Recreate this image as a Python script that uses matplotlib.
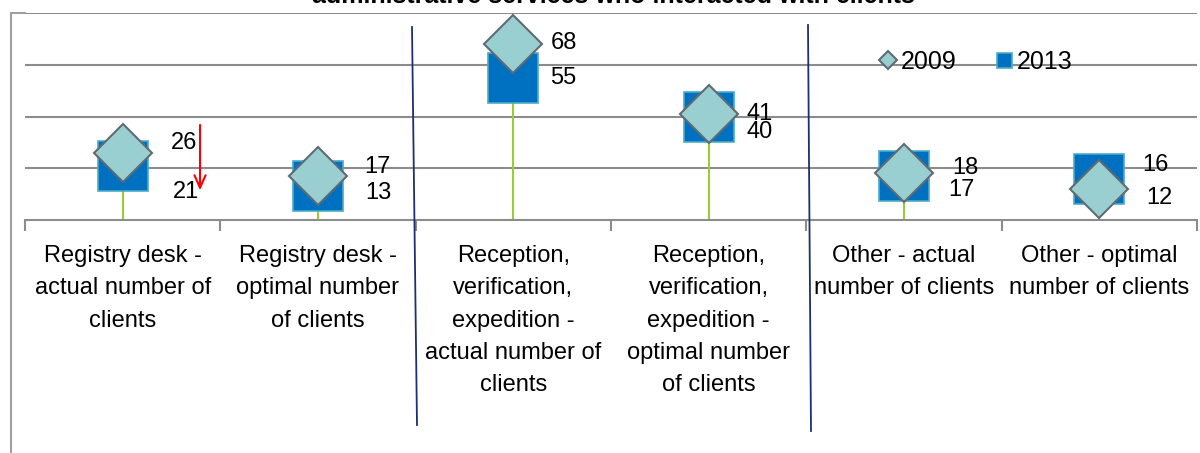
import matplotlib
matplotlib.use("Agg")
import matplotlib.pyplot as plt
from matplotlib.lines import Line2D

plt.rcParams['font.family'] = ['Liberation Sans', 'DejaVu Sans']

# data
categories = ["Registry desk -\nactual number of\nclients",
              "Registry desk -\noptimal number\nof clients",
              "Reception,\nverification,\nexpedition -\nactual number of\nclients",
              "Reception,\nverification,\nexpedition -\noptimal number\nof clients",
              "Other - actual\nnumber of clients",
              "Other - optimal\nnumber of clients"]
v2009 = [26, 17, 68, 41, 18, 12]
v2013 = [21, 13, 55, 40, 17, 16]
# label offsets in pixels (dx, dy)
off2009 = [(61, 10), (59, 9), (51, 1), (51, 0), (61, 5), (60, -9)]
off2013 = [(63, -26), (60, -7), (50, 0), (51, -16), (57, -14), (56, 14)]

W, H = 1200, 453
fig = plt.figure(figsize=(12, 4.53), dpi=100)
ax = fig.add_axes([25 / W, 1 - 220 / H, 1172 / W, 207 / H])

x = list(range(len(categories)))
top = [max(a, b) for a, b in zip(v2009, v2013)]
ax.vlines(x, 0, top, color='#9ACD32', lw=1.5, zorder=2)
ax.plot(x, v2013, ls='none', marker='s', ms=36, mfc='#0070C0', mec='#4BACC6',
        mew=1.2, zorder=3, label='2013')
ax.plot(x, v2009, ls='none', marker='D', ms=30, mfc='#9ACFD2', mec='#5F6B73',
        mew=1.5, zorder=4, label='2009')

for i in x:
    ax.annotate(str(v2009[i]), (i, v2009[i]), xytext=off2009[i], textcoords='offset pixels',
                ha='center', va='center', fontsize=17, zorder=5)
    ax.annotate(str(v2013[i]), (i, v2013[i]), xytext=off2013[i], textcoords='offset pixels',
                ha='center', va='center', fontsize=17, zorder=5)

ax.set_xlim(-0.5, len(categories) - 0.5)
ax.set_ylim(0, 80)
ax.set_yticks([20, 40, 60, 80])
ax.yaxis.grid(True, color='#8c8c8c', lw=1.5)
ax.tick_params(axis='y', left=False, labelleft=False)
for s in ['left', 'right', 'top']:
    ax.spines[s].set_visible(False)
ax.spines['bottom'].set_color('#8c8c8c')
ax.spines['bottom'].set_linewidth(1.5)
ax.set_xticks(x)
ax.set_xticklabels(categories, fontsize=17)
for t in ax.get_xticklabels():
    t.set_linespacing(1.61)
ax.set_xticks([i - 0.5 for i in range(len(categories) + 1)], minor=True)
ax.tick_params(axis='x', which='major', length=0, pad=18)
ax.tick_params(axis='x', which='minor', length=8, color='#8c8c8c', width=1.5)
ax.set_axisbelow(True)

# red arrow
ax.annotate('', xy=(0.396, 10.4), xytext=(0.396, 37.8),
            arrowprops=dict(arrowstyle='->,head_length=0.9,head_width=0.4', color='red', lw=1.5))

leg = ax.legend(handles=ax.get_lines()[::-1], loc='center', bbox_to_anchor=(0.812, 0.763),
                ncol=2, frameon=False, fontsize=18, markerscale=0.3,
                handlelength=0.6, handletextpad=0.2, columnspacing=1.6)

# outer frame
fig.add_artist(Line2D([11 / W, 11 / W], [0, 1 - 13 / H], color='#a0a0a0', lw=1.5))
fig.add_artist(Line2D([11 / W, 25 / W], [1 - 13 / H, 1 - 13 / H], color='#a0a0a0', lw=1.5))

# separators
fig.add_artist(Line2D([412 / W, 417 / W], [1 - 27 / H, 1 - 425 / H], color='#1F2F6F', lw=1.3))
fig.add_artist(Line2D([808 / W, 811 / W], [1 - 25 / H, 1 - 431 / H], color='#1F2F6F', lw=1.3))

fig.text(613 / W, 1 - 3 / H, "administrative services who interacted with clients",
         ha='center', va='baseline', fontsize=18, fontweight='bold')

fig.savefig('out.png', dpi=100)
